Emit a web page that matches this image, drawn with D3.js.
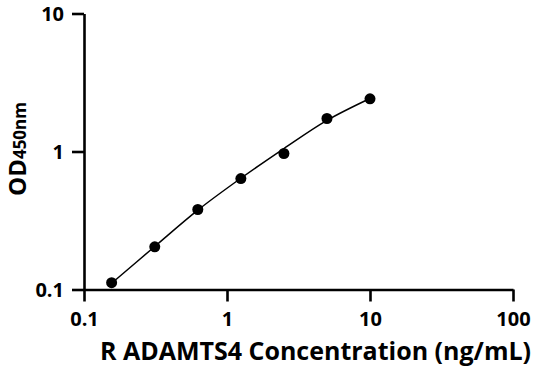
<!DOCTYPE html>
<html>
<head>
<meta charset="utf-8">
<script src="https://cdn.jsdelivr.net/npm/d3@7"></script>
<style>
  body { margin: 0; background: #fff; }
  text { font-family: "Open Sans", sans-serif; font-weight: bold; fill: #000; }
</style>
</head>
<body>
<svg></svg>
<script>
const w = 536
const h = 371
const svg = d3.select("svg").attr("width", w).attr("height", h)

// standard points
const conc = [0.156, 0.3125, 0.625, 1.25, 2.5, 5, 10]
const od = [0.112, 0.204, 0.38, 0.637, 0.967, 1.734, 2.41]

// fitted curve
const fitConc = [0.156, 0.3125, 0.625, 1.25, 2.5, 5, 10]
const fitOd = [0.111, 0.205, 0.376, 0.64, 1.05, 1.68, 2.42]

const xTicks = [0.1, 1, 10, 100]
const yTicks = [0.1, 1, 10]

const x = d3.scaleLog().domain([0.1, 100]).range([84, 513])
const y = d3.scaleLog().domain([0.1, 10]).range([289.5, 13.5])

const fmt = d => d3.format("~g")(d)

const xAxis = svg.append("g")
    .attr("transform", "translate(0,289.5)")
    .call(d3.axisBottom(x).tickValues(xTicks).tickFormat(fmt).tickSize(12).tickSizeOuter(0))
const yAxis = svg.append("g")
    .attr("transform", "translate(84,0)")
    .call(d3.axisLeft(y).tickValues(yTicks).tickFormat(fmt).tickSize(12).tickSizeOuter(0))

for (const ax of [xAxis, yAxis]) {
    ax.select(".domain").attr("stroke", "#000").attr("stroke-width", 2.6)
    ax.selectAll(".tick line").attr("stroke", "#000").attr("stroke-width", 2.6)
    ax.selectAll(".tick text").attr("font-size", 20).attr("font-family", null).attr("fill", "#000")
}
xAxis.selectAll(".tick text").attr("y", 36.5).attr("dy", null)
yAxis.selectAll(".tick text").attr("x", -20).attr("dy", "0.36em")

// fit line
const line = d3.line()
    .x((d, i) => x(fitConc[i]))
    .y(d => y(d))
    .curve(d3.curveCatmullRom)
svg.append("path")
    .attr("d", line(fitOd))
    .attr("fill", "none")
    .attr("stroke", "#000")
    .attr("stroke-width", 1.5)

svg.append("g")
    .selectAll("circle")
    .data(od)
    .enter()
    .append("circle")
    .attr("cx", (d, i) => x(conc[i]))
    .attr("cy", d => y(d))
    .attr("r", 5.5)
    .attr("fill", "#000")

// axis titles
svg.append("text")
    .attr("x", 315.5)
    .attr("y", 359.5)
    .attr("text-anchor", "middle")
    .attr("font-size", 25)
    .text("R ADAMTS4 Concentration (ng/mL)")

const yt = svg.append("text")
    .attr("transform", "translate(26,149) rotate(-90)")
    .attr("text-anchor", "middle")
yt.append("tspan").attr("font-size", 24).text("OD")
yt.append("tspan").attr("font-size", 17).text("450nm")
</script>
</body>
</html>
